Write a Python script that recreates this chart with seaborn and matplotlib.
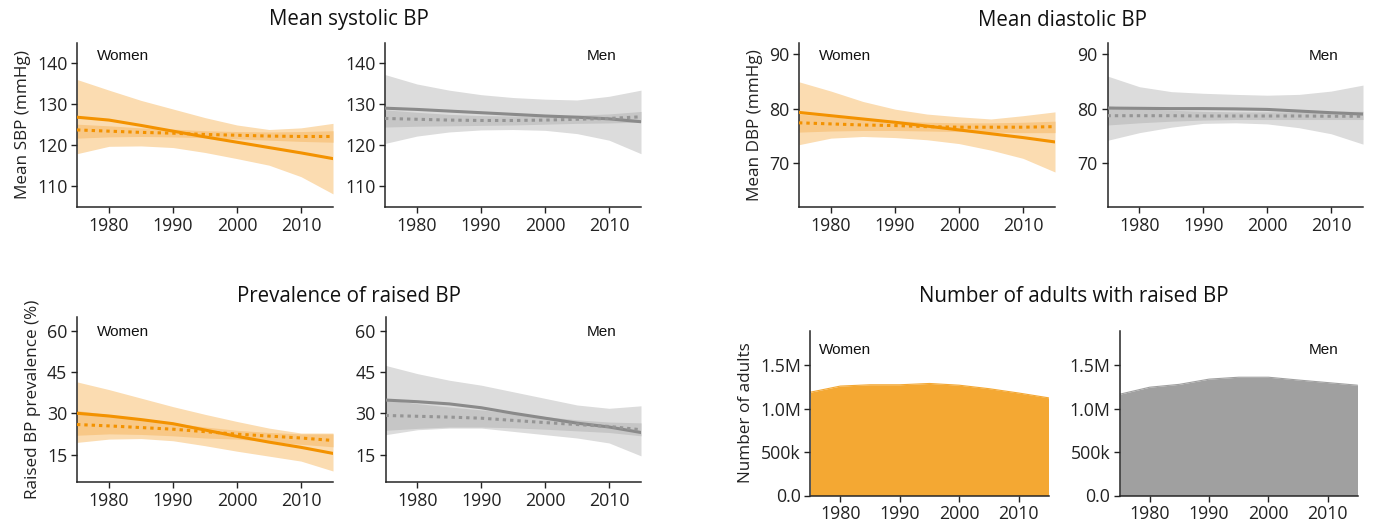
import numpy as np
import pandas as pd
import matplotlib
matplotlib.use("Agg")
import matplotlib.pyplot as plt
import seaborn as sns

# ---------------- data ----------------
years = [1975, 1980, 1985, 1990, 1995, 2000, 2005, 2010, 2015]

# Mean SBP - women
sbp_w_solid = [126.9, 126.2, 124.9, 123.5, 122.1, 120.8, 119.5, 118.2, 116.8]
sbp_w_dot = [123.8, 123.5, 123.2, 123.0, 122.7, 122.5, 122.3, 122.2, 122.2]
sbp_w_outer_hi = [136.1, 133.5, 131.0, 128.9, 126.8, 125.0, 123.9, 124.3, 125.4]
sbp_w_outer_lo = [118.0, 119.8, 119.9, 119.5, 118.3, 116.8, 115.2, 112.4, 108.2]
sbp_w_inner_hi = [125.2, 124.8, 124.3, 124.0, 123.6, 123.4, 123.3, 123.4, 123.6]
sbp_w_inner_lo = [121.8, 122.1, 122.2, 122.1, 121.9, 121.6, 121.3, 121.0, 120.8]

# Mean SBP - men
sbp_m_solid = [129.1, 128.8, 128.4, 128.0, 127.6, 127.2, 126.9, 126.5, 125.8]
sbp_m_dot = [126.6, 126.4, 126.2, 126.1, 126.1, 126.2, 126.4, 126.6, 127.0]
sbp_m_outer_hi = [137.3, 135.0, 133.5, 132.4, 131.7, 131.3, 131.1, 132.0, 133.5]
sbp_m_outer_lo = [120.5, 122.3, 123.3, 123.8, 123.9, 123.7, 122.9, 121.3, 118.0]
sbp_m_inner_hi = [128.7, 128.1, 127.6, 127.3, 127.2, 127.2, 127.4, 127.7, 128.3]
sbp_m_inner_lo = [124.5, 124.7, 124.8, 124.9, 125.0, 125.2, 125.4, 125.5, 125.7]

# Mean DBP - women
dbp_w_solid = [79.3, 78.7, 78.1, 77.5, 76.8, 76.1, 75.4, 74.7, 73.9]
dbp_w_dot = [77.4, 77.2, 77.0, 76.9, 76.7, 76.6, 76.6, 76.6, 76.7]
dbp_w_outer_hi = [84.9, 83.2, 81.3, 79.9, 79.0, 78.5, 78.1, 78.7, 79.4]
dbp_w_outer_lo = [73.4, 74.6, 74.9, 74.7, 74.3, 73.6, 72.4, 70.9, 68.4]
dbp_w_inner_hi = [79.0, 78.5, 78.0, 77.8, 77.5, 77.4, 77.4, 77.5, 77.7]
dbp_w_inner_lo = [75.7, 75.9, 76.0, 76.0, 75.9, 75.8, 75.7, 75.6, 75.6]

# Mean DBP - men
dbp_m_solid = [80.1, 80.05, 80.0, 80.0, 79.95, 79.85, 79.55, 79.25, 79.0]
dbp_m_dot = [78.7, 78.7, 78.7, 78.65, 78.65, 78.65, 78.65, 78.6, 78.6]
dbp_m_outer_hi = [85.95, 84.0, 83.1, 82.8, 82.6, 82.45, 82.6, 83.2, 84.3]
dbp_m_outer_lo = [74.2, 75.6, 76.6, 77.3, 77.4, 77.2, 76.5, 75.4, 73.5]
dbp_m_inner_hi = [80.5, 80.0, 79.7, 79.5, 79.4, 79.4, 79.4, 79.5, 79.5]
dbp_m_inner_lo = [77.0, 77.4, 77.7, 77.9, 78.0, 78.0, 78.0, 78.0, 78.0]

# Raised BP prevalence - women
prev_w_solid = [30.0, 29.0, 27.7, 26.2, 23.9, 21.6, 19.5, 17.6, 15.4]
prev_w_dot = [25.9, 25.4, 24.8, 24.2, 23.3, 22.4, 21.7, 21.0, 20.1]
prev_w_outer_hi = [41.4, 38.6, 35.5, 32.4, 29.6, 27.0, 24.6, 22.8, 22.8]
prev_w_outer_lo = [19.4, 20.6, 20.8, 20.0, 18.2, 16.2, 14.4, 12.6, 9.0]
prev_w_inner_hi = [31.0, 29.5, 28.0, 26.5, 25.0, 23.8, 23.0, 22.5, 22.5]
prev_w_inner_lo = [22.0, 22.5, 22.3, 21.8, 21.0, 20.6, 19.7, 18.7, 17.8]

# Raised BP prevalence - men
prev_m_solid = [34.8, 34.2, 33.4, 32.0, 30.0, 28.2, 26.4, 25.0, 23.0]
prev_m_dot = [29.2, 28.9, 28.6, 28.2, 27.4, 26.6, 25.9, 25.2, 24.0]
prev_m_outer_hi = [47.4, 44.4, 42.0, 40.2, 37.8, 35.4, 33.0, 31.8, 32.7]
prev_m_outer_lo = [22.2, 24.0, 24.6, 24.6, 23.4, 22.2, 21.0, 19.2, 14.5]
prev_m_inner_hi = [35.0, 33.5, 32.3, 31.2, 30.0, 28.8, 27.6, 26.8, 26.5]
prev_m_inner_lo = [23.8, 24.5, 25.0, 25.0, 24.7, 24.2, 23.6, 23.0, 21.8]

# Number of adults with raised BP (millions)
adults_w = [1.19, 1.26, 1.275, 1.275, 1.29, 1.27, 1.23, 1.18, 1.125]
adults_m = [1.167, 1.247, 1.28, 1.34, 1.362, 1.362, 1.33, 1.30, 1.27]

x_ticks = [1980, 1990, 2000, 2010]
sbp_ticks = [110, 120, 130, 140]
dbp_ticks = [70, 80, 90]
prev_ticks = [15, 30, 45, 60]
adult_ticks = [0, 500000, 1000000, 1500000]
adult_tick_labels = ["0.0", "500k", "1.0M", "1.5M"]

# ---------------- style ----------------
sns.set_style("ticks")
plt.rcParams["font.family"] = ["Open Sans", "DejaVu Sans"]
plt.rcParams["axes.linewidth"] = 1.1
plt.rcParams["xtick.major.size"] = 4
plt.rcParams["ytick.major.size"] = 4
plt.rcParams["xtick.major.width"] = 1.0
plt.rcParams["ytick.major.width"] = 1.0

ORANGE = "#F39200"
ORANGE_LIGHT = "#FBDCB1"
ORANGE_MID = "#F8C887"
ORANGE_AREA = "#F4A833"
GREY = "#8A8A8A"
GREY_DOT = "#959595"
GREY_LIGHT = "#DCDCDC"
GREY_MID = "#C6C6C6"
GREY_AREA = "#A0A0A0"

W, H = 1386, 521
fig = plt.figure(figsize=(W / 100, H / 100), dpi=100)

TICK_FS = 12.8
YLAB_FS = 12.3
TITLE_FS = 14.8


def px_axes(x0, y0, x1, y1):
    return fig.add_axes([x0 / W, 1 - y1 / H, (x1 - x0) / W, (y1 - y0) / H])


def style_axes(ax, yticks, ylim):
    sns.despine(ax=ax)
    ax.set_xlim(1975, 2015)
    ax.set_ylim(*ylim)
    ax.set_xticks(x_ticks)
    ax.set_yticks(yticks)
    ax.tick_params(labelsize=TICK_FS, colors="#222222", pad=3)
    ax.set_xlabel("")
    ax.set_ylabel("")


def line_panel(ax, solid, dot, ohi, olo, ihi, ilo, col, dcol, light, mid, yticks, ylim):
    ax.fill_between(years, olo, ohi, color=light, lw=0, zorder=1)
    ax.fill_between(years, ilo, ihi, color=mid, lw=0, zorder=2)
    df = pd.DataFrame({"year": years, "solid": solid, "dot": dot})
    sns.lineplot(data=df, x="year", y="solid", ax=ax, color=col, lw=2.2, zorder=3)
    sns.lineplot(data=df, x="year", y="dot", ax=ax, color=dcol, lw=2.2,
                 linestyle=(0, (1.1, 1.3)), zorder=4)
    style_axes(ax, yticks, ylim)


def area_panel(ax, vals, col, yticks, ylim):
    v = [x * 1e6 for x in vals]
    df = pd.DataFrame({"year": years, "n": v})
    ax.fill_between(years, 0, v, color=col, lw=0, zorder=1)
    sns.lineplot(data=df, x="year", y="n", ax=ax, color=col, lw=0.8, zorder=2)
    style_axes(ax, yticks, ylim)
    ax.set_yticklabels(adult_tick_labels)


def label(ax_px, text, side, dx, dy):
    x0, y0, x1, y1 = ax_px
    kw = dict(va="center", fontsize=11, family=["Liberation Sans", "DejaVu Sans"],
              color="#111111")
    if side == "left":
        fig.text((x0 + dx) / W, 1 - (y0 + dy) / H, text, ha="left", **kw)
    else:
        fig.text((x1 - dx) / W, 1 - (y0 + dy) / H, text, ha="right", **kw)


# positions (pixels): x0, y0(top), x1, y1(bottom)
p_sbp_w = (77, 43, 333, 207)
p_sbp_m = (385, 43, 641, 207)
p_dbp_w = (799, 43, 1055, 207)
p_dbp_m = (1107.5, 43, 1363, 207)
p_prev_w = (77, 317, 333, 482)
p_prev_m = (385.5, 317, 641, 482)
p_ad_w = (810.5, 330.5, 1048.5, 495.5)
p_ad_m = (1120, 330.5, 1357.5, 495.5)

ax = px_axes(*p_sbp_w)
line_panel(ax, sbp_w_solid, sbp_w_dot, sbp_w_outer_hi, sbp_w_outer_lo, sbp_w_inner_hi,
           sbp_w_inner_lo, ORANGE, ORANGE, ORANGE_LIGHT, ORANGE_MID, sbp_ticks, (105, 145))
ax.set_ylabel("Mean SBP (mmHg)", fontsize=YLAB_FS, color="#222222")
label(p_sbp_w, "Women", "left", 20, 12.5)

ax = px_axes(*p_sbp_m)
line_panel(ax, sbp_m_solid, sbp_m_dot, sbp_m_outer_hi, sbp_m_outer_lo, sbp_m_inner_hi,
           sbp_m_inner_lo, GREY, GREY_DOT, GREY_LIGHT, GREY_MID, sbp_ticks, (105, 145))
label(p_sbp_m, "Men", "right", 24, 12.5)

ax = px_axes(*p_dbp_w)
line_panel(ax, dbp_w_solid, dbp_w_dot, dbp_w_outer_hi, dbp_w_outer_lo, dbp_w_inner_hi,
           dbp_w_inner_lo, ORANGE, ORANGE, ORANGE_LIGHT, ORANGE_MID, dbp_ticks, (62, 92))
ax.set_ylabel("Mean DBP (mmHg)", fontsize=YLAB_FS, color="#222222")
label(p_dbp_w, "Women", "left", 20, 12.5)

ax = px_axes(*p_dbp_m)
line_panel(ax, dbp_m_solid, dbp_m_dot, dbp_m_outer_hi, dbp_m_outer_lo, dbp_m_inner_hi,
           dbp_m_inner_lo, GREY, GREY_DOT, GREY_LIGHT, GREY_MID, dbp_ticks, (62, 92))
label(p_dbp_m, "Men", "right", 25, 12.5)

ax = px_axes(*p_prev_w)
line_panel(ax, prev_w_solid, prev_w_dot, prev_w_outer_hi, prev_w_outer_lo, prev_w_inner_hi,
           prev_w_inner_lo, ORANGE, ORANGE, ORANGE_LIGHT, ORANGE_MID, prev_ticks, (5, 65))
ax.set_ylabel("Raised BP prevalence (%)", fontsize=YLAB_FS, color="#222222")
label(p_prev_w, "Women", "left", 20, 15)

ax = px_axes(*p_prev_m)
line_panel(ax, prev_m_solid, prev_m_dot, prev_m_outer_hi, prev_m_outer_lo, prev_m_inner_hi,
           prev_m_inner_lo, GREY, GREY_DOT, GREY_LIGHT, GREY_MID, prev_ticks, (5, 65))
label(p_prev_m, "Men", "right", 24, 15)

ax = px_axes(*p_ad_w)
area_panel(ax, adults_w, ORANGE_AREA, adult_ticks, (0, 1.9e6))
ax.set_ylabel("Number of adults", fontsize=YLAB_FS, color="#222222")
label(p_ad_w, "Women", "left", 8, 20)

ax = px_axes(*p_ad_m)
area_panel(ax, adults_m, GREY_AREA, adult_ticks, (0, 1.9e6))
label(p_ad_m, "Men", "right", 19.5, 20)

# group titles
for txt, cx, cy in [("Mean systolic BP", 349, 20), ("Mean diastolic BP", 1062, 20),
                    ("Prevalence of raised BP", 349, 296),
                    ("Number of adults with raised BP", 1074, 296)]:
    fig.text(cx / W, 1 - cy / H, txt, ha="center", va="center", fontsize=TITLE_FS,
             color="#111111")

fig.savefig("out.png", dpi=100)
